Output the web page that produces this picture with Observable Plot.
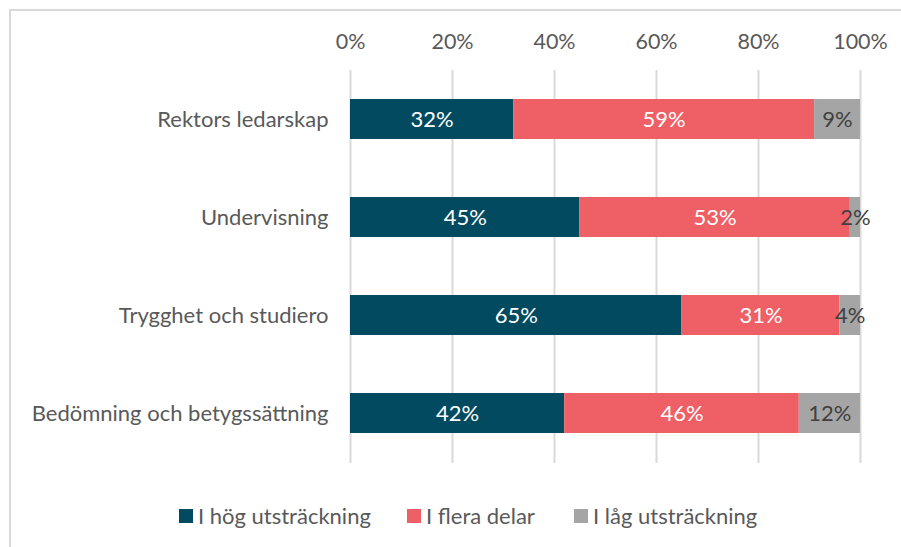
<!DOCTYPE html>
<html>
<head>
<meta charset="utf-8">
<script src="https://cdn.jsdelivr.net/npm/d3@7"></script>
<script src="https://cdn.jsdelivr.net/npm/@observablehq/plot@0.6"></script>
<style>
  html, body { margin: 0; padding: 0; background: #fff; overflow: hidden; }
  #wrap { position: relative; width: 901px; height: 547px; font-family: Lato, "Open Sans", sans-serif; }
  #frame { position: absolute; left: 9px; top: 9px; width: 1200px; height: 1200px;
           border-left: 2px solid #d9d9d9; border-top: 2px solid #d9d9d9; box-sizing: border-box; }
  #chart { position: absolute; left: 0; top: 0; }
  .leg { position: absolute; top: 502px; display: flex; align-items: center; font-size: 22px; color: #595959; white-space: nowrap; }
  .sw { width: 14px; height: 14px; margin-right: 5px; }
</style>
</head>
<body>
<div id="wrap">
  <div id="frame"></div>
  <div id="chart"></div>
  <div id="legend"></div>
</div>
<script>
const categories = ["Rektors ledarskap", "Undervisning", "Trygghet och studiero", "Bedömning och betygssättning"];
const series = ["I hög utsträckning", "I flera delar", "I låg utsträckning"];
const hog   = [32, 45, 65, 42];
const flera = [59, 53, 31, 46];
const lag   = [9, 2, 4, 12];
const colors = ["#024a5f", "#ee5f66", "#a5a5a5"];
const ticks = [0, 20, 40, 60, 80, 100];

const seriesValues = [hog, flera, lag];
const data = [];
categories.forEach((c, i) => {
  series.forEach((s, j) => data.push({cat: c, series: s, value: seriesValues[j][i]}));
});

const chart = Plot.plot({
  width: 901,
  height: 480,
  marginTop: 70,
  marginBottom: 17,
  marginLeft: 350,
  marginRight: 41,
  style: {fontFamily: "Lato, 'Open Sans', sans-serif", background: "transparent"},
  x: {domain: [0, 100]},
  y: {domain: categories, paddingInner: 0.59, paddingOuter: 0.295},
  color: {domain: series, range: colors},
  marks: [
    Plot.gridX(ticks, {stroke: "#d9d9d9", strokeOpacity: 1, strokeWidth: 2}),
    Plot.axisX(ticks, {anchor: "top", tickSize: 0, tickPadding: 22, tickFormat: d => d + "%", fontSize: 21.5, fill: "#595959", label: null}),
    Plot.axisY({tickSize: 0, tickPadding: 22, fontSize: 22, fill: "#595959", label: null}),
    Plot.barX(data, Plot.stackX({x: "value", y: "cat", fill: "series", z: "series"})),
    Plot.text(data, Plot.stackX({x: "value", y: "cat", z: "series",
      text: d => d.series !== series[2] ? d.value + "%" : null, fill: "white", fontSize: 22})),
    Plot.text(data, Plot.stackX({x: "value", y: "cat", z: "series",
      text: d => d.series === series[2] ? d.value + "%" : null, fill: "#404040", fontSize: 22}))
  ]
});
document.getElementById("chart").appendChild(chart);

const legendX = [179, 407, 574];
const legend = document.getElementById("legend");
series.forEach((s, j) => {
  const item = document.createElement("div");
  item.className = "leg";
  item.style.left = legendX[j] + "px";
  item.innerHTML = `<div class="sw" style="background:${colors[j]}"></div><span>${s}</span>`;
  legend.appendChild(item);
});
</script>
</body>
</html>
